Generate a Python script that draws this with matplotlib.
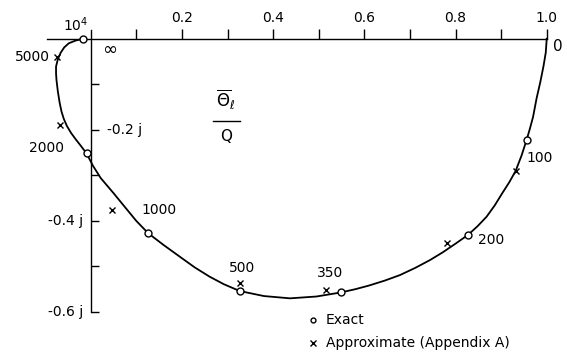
import matplotlib
matplotlib.use("Agg")
import matplotlib.pyplot as plt

# Frequency-response locus of theta_l / Q in the complex plane
curve_re = [1.000, 0.998, 0.993, 0.986, 0.978, 0.970, 0.963, 0.956, 0.945, 0.932,
            0.918, 0.902, 0.886, 0.868, 0.848, 0.827, 0.800, 0.772, 0.744, 0.712,
            0.678, 0.645, 0.610, 0.580, 0.549, 0.495, 0.437, 0.380, 0.327, 0.292,
            0.260, 0.228, 0.196, 0.160, 0.126, 0.100, 0.077, 0.050, 0.022, 0.005,
            -0.009, -0.021, -0.032, -0.043, -0.052, -0.059, -0.064, -0.068, -0.072,
            -0.075, -0.076, -0.076, -0.072, -0.066, -0.058, -0.048, -0.033, -0.016]
curve_im = [0.000, -0.030, -0.060, -0.095, -0.130, -0.172, -0.198, -0.222, -0.256, -0.290,
            -0.315, -0.340, -0.366, -0.391, -0.412, -0.431, -0.450, -0.469, -0.486, -0.503,
            -0.519, -0.531, -0.542, -0.550, -0.557, -0.566, -0.570, -0.565, -0.554, -0.539,
            -0.522, -0.502, -0.479, -0.453, -0.427, -0.400, -0.372, -0.339, -0.306, -0.279,
            -0.252, -0.236, -0.222, -0.207, -0.192, -0.176, -0.160, -0.141, -0.116,
            -0.091, -0.076, -0.061, -0.045, -0.031, -0.019, -0.010, -0.004, 0.000]

# Exact solution at selected frequencies
exact_freq = ["10$^4$", "2000", "1000", "500", "350", "200", "100"]
exact_re = [-0.016, -0.009, 0.126, 0.327, 0.549, 0.827, 0.956]
exact_im = [0.000, -0.250, -0.427, -0.554, -0.557, -0.431, -0.222]

# Approximate solution (Appendix A)
approx_freq = ["5000", "2000", "1000", "500", "350", "200", "100"]
approx_re = [-0.074, -0.068, 0.046, 0.327, 0.517, 0.782, 0.932]
approx_im = [-0.040, -0.190, -0.376, -0.537, -0.552, -0.448, -0.290]

x_major = [0.2, 0.4, 0.6, 0.8, 1.0]
x_major_labels = ["0.2", "0.4", "0.6", "0.8", "1.0"]
x_minor = [0.1, 0.3, 0.5, 0.7, 0.9]
y_major = [-0.2, -0.4, -0.6]
y_minor = [-0.1, -0.3, -0.5]

FONT = "DejaVu Sans"
FS = 10

fig = plt.figure(figsize=(5.67, 3.56), dpi=100)
ax = fig.add_axes([0, 0, 1, 1])
ax.set_xlim(-0.1989, 1.0445)
ax.set_ylim(-0.6966, 0.085)

# Axes drawn through the origin
for s in ("bottom", "right"):
    ax.spines[s].set_visible(False)
ax.spines["top"].set_position(("data", 0))
ax.spines["left"].set_position(("data", 0))
ax.spines["top"].set_bounds(-0.095, 1.0)
ax.spines["left"].set_bounds(-0.6, 0.02)
ax.spines["top"].set_linewidth(1.0)
ax.spines["left"].set_linewidth(1.0)

ax.xaxis.tick_top()
ax.set_xticks(x_major)
ax.set_xticklabels(x_major_labels, fontsize=FS, family=FONT)
ax.set_xticks(x_minor, minor=True)
ax.tick_params(axis="x", which="both", direction="out", length=7, width=1.0,
               pad=3, labelsize=FS)
ax.set_yticks(y_major)
ax.set_yticks(y_minor, minor=True)
ax.set_yticklabels([])
ax.tick_params(axis="y", which="both", direction="in", length=6, width=1.0)

# Imaginary-axis labels
ax.text(0.035, -0.2, "-0.2 j", fontsize=FS, family=FONT, ha="left", va="center")
ax.text(-0.017, -0.4, "-0.4 j", fontsize=FS, family=FONT, ha="right", va="center")
ax.text(-0.017, -0.6, "-0.6 j", fontsize=FS, family=FONT, ha="right", va="center")

# Locus
ax.plot(curve_re, curve_im, color="black", lw=1.3, zorder=3)
ax.plot(exact_re, exact_im, linestyle="none", marker="o", ms=5,
        mfc="white", mec="black", mew=1.0, zorder=4)
ax.plot(approx_re, approx_im, linestyle="none", marker="x", ms=5,
        color="black", mew=1.0, zorder=4)

# Frequency annotations
ax.text(-0.032, 0.031, "10$^4$", fontsize=FS, family=FONT, ha="center", va="center")
ax.text(0.042, -0.025, "∞", fontsize=FS + 3, family=FONT, ha="center", va="center")
ax.text(-0.128, -0.040, "5000", fontsize=FS, family=FONT, ha="center", va="center")
ax.text(-0.098, -0.240, "2000", fontsize=FS, family=FONT, ha="center", va="center")
ax.text(0.150, -0.376, "1000", fontsize=FS, family=FONT, ha="center", va="center")
ax.text(0.332, -0.503, "500", fontsize=FS, family=FONT, ha="center", va="center")
ax.text(0.525, -0.514, "350", fontsize=FS, family=FONT, ha="center", va="center")
ax.text(0.878, -0.442, "200", fontsize=FS, family=FONT, ha="center", va="center")
ax.text(0.985, -0.262, "100", fontsize=FS, family=FONT, ha="center", va="center")
ax.text(1.025, -0.016, "0", fontsize=FS + 1, family=FONT, ha="center", va="center")

# Quantity plotted
ax.text(0.295, -0.135, r"$\overline{\Theta}_{\ell}$", fontsize=FS + 2,
        ha="center", va="center")
ax.plot([0.268, 0.328], [-0.180, -0.180], color="black", lw=1.0)
ax.text(0.296, -0.215, "Q", fontsize=FS + 1, family=FONT, ha="center", va="center")

# Legend
ax.plot([0.488], [-0.618], linestyle="none", marker="o", ms=3.5,
        mfc="white", mec="black", mew=1.0)
ax.text(0.515, -0.618, "Exact", fontsize=FS, family=FONT, ha="left", va="center")
ax.plot([0.488], [-0.669], linestyle="none", marker="x", ms=4,
        color="black", mew=1.0)
ax.text(0.515, -0.669, "Approximate (Appendix A)", fontsize=FS, family=FONT,
        ha="left", va="center")

fig.savefig("out.png", dpi=100, facecolor="white")
